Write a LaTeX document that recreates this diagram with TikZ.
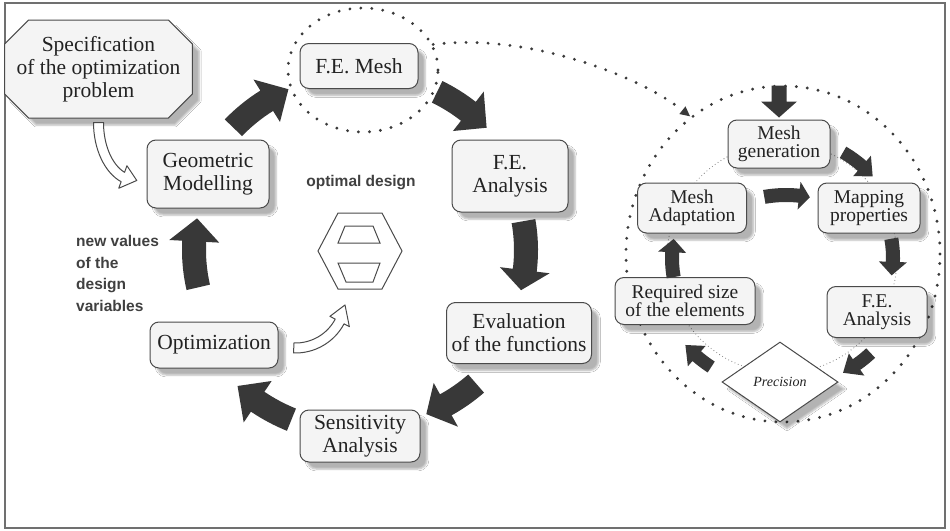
\documentclass[tikz,border=0pt]{standalone}
\usepackage{fontspec}
\setmainfont{Liberation Serif}
\newfontfamily\labelsans{Liberation Sans}
\usetikzlibrary{shapes.geometric,shapes.misc,shadows.blur,arrows.meta}

\definecolor{inkline}{HTML}{4A4A4A}
\definecolor{boxfill}{HTML}{F4F4F4}
\definecolor{textc}{HTML}{222222}
\definecolor{darkarrow}{HTML}{383838}
\definecolor{dotc}{HTML}{3A3A3A}
\definecolor{framec}{HTML}{707070}

% Curved block arrow along an elliptic arc around the current origin:
% [style]{x radius}{y radius}{tail angle}{head-base angle}{tip angle}{body width}{head width}
\newcommand\blockarc[8][]{%
  \pgfmathsetmacro\baXo{#2+#7/2}\pgfmathsetmacro\baYo{#3+#7/2}%
  \pgfmathsetmacro\baXi{#2-#7/2}\pgfmathsetmacro\baYi{#3-#7/2}%
  \pgfmathsetmacro\baHXo{#2+#8/2}\pgfmathsetmacro\baHYo{#3+#8/2}%
  \pgfmathsetmacro\baHXi{#2-#8/2}\pgfmathsetmacro\baHYi{#3-#8/2}%
  \filldraw[#1] (#4:{\baXo} and {\baYo})
    arc[start angle=#4, end angle=#5, x radius=\baXo, y radius=\baYo]
    -- (#5:{\baHXo} and {\baHYo}) -- (#6:{#2} and {#3})
    -- (#5:{\baHXi} and {\baHYi}) -- (#5:{\baXi} and {\baYi})
    arc[start angle=#5, end angle=#4, x radius=\baXi, y radius=\baYi]
    -- cycle;}

\begin{document}
\begin{tikzpicture}[x=1pt,y=-1pt,
  box/.style={draw=inkline, line width=1pt, fill=boxfill, rounded corners=9pt,
    align=center, inner sep=0pt, text=textc,
    font=\fontsize{21.5}{23}\selectfont,
    blur shadow={shadow xshift=7pt, shadow yshift=-7pt, shadow opacity=30, shadow blur steps=5}},
  small/.style={font=\fontsize{19.5}{18.5}\selectfont},
  wh/.style 2 args={minimum width=#1pt, minimum height=#2pt},
  bigdots/.style={draw=dotc, line width=3.2pt, line cap=round, dash pattern=on 0pt off 11pt},
  finedots/.style={draw=gray, line width=1.1pt, line cap=round, dash pattern=on 0pt off 3.5pt},
  cyclearrow/.style={fill=darkarrow, draw=none},
  openarrow/.style={fill=white, draw=inkline, line width=1pt, line join=round},
  note/.style={font=\labelsans\bfseries\fontsize{15.5}{21.5}\selectfont, text=black!75, inner sep=0pt}
]
\useasboundingbox (0,0) rectangle (950,530);
\fill[white] (0,0) rectangle (950,530);
\draw[framec, line width=1.6pt] (5,3) rectangle (945,528);

% dotted rings
\node[ellipse, bigdots, minimum width=150pt, minimum height=124pt] (meshring) at (363,70) {};
\node[ellipse, bigdots, minimum width=314pt, minimum height=336pt] (zoomring) at (783,254) {};
\node[circle, finedots, minimum size=230pt] (innerring) at (782,258) {};
\coordinate (cyc) at (360,250);

% zoom connector
\draw[bigdots, -{Triangle[length=10pt,width=9pt]}] (meshring.20)
  .. controls +(95,-12) and +(-50,-40) .. (zoomring.124);

% main loop
\node[box, sharp corners, chamfered rectangle, chamfered rectangle xsep=12pt,
  chamfered rectangle ysep=12pt, wh={167}{98}] (spec) at (98.5,69)
  {Specification\\of the optimization\\problem};
\node[box, wh={122}{68}] (geo) at (208,174) {Geometric\\Modelling};
\node[box, wh={118}{45}] (mesh) at (359,66) {F.E. Mesh};
\node[box, wh={116}{72}] (fea) at (510,176) {F.E.\\Analysis};
\node[box, wh={145}{61}] (evalf) at (519,333) {Evaluation\\of the functions};
\node[box, wh={120}{52}] (sens) at (360,436) {Sensitivity\\Analysis};
\node[box, wh={128}{46}] (optim) at (214,345) {Optimization};

\node[note] (optlabel) at (361,183) {optimal design};
\node[note, align=left, anchor=north west] (newvals) at (76,235.5)
  {new values\\of the\\design\\variables};

% optimal design glyph
\draw[inkline, line width=1pt] (338,213) -- (382,213) -- (402,251) -- (382,289)
  -- (338,289) -- (318,251) -- cycle;
\draw[inkline, line width=1pt] (345,226) -- (373,226) -- (380,243) -- (338,243) -- cycle;
\draw[inkline, line width=1pt] (338,263) -- (380,263) -- (373,282) -- (346,282) -- cycle;

% loop arrows
\begin{scope}[shift={(cyc)}]
  \blockarc[cyclearrow]{176}{176}{224}{238}{246}{24}{50}
  \blockarc[cyclearrow]{176}{176}{296}{308}{316}{24}{50}
  \blockarc[cyclearrow]{166}{166}{350}{367}{374}{24}{50}
  \blockarc[cyclearrow]{177}{177}{49}{61}{68}{24}{50}
  \blockarc[cyclearrow]{183}{183}{112}{124}{132}{24}{50}
  \blockarc[cyclearrow]{166}{166}{167}{183}{191}{24}{50}
\end{scope}

% open arrows
\begin{scope}[shift={(spec.south)}, shift={(37,4)}]
  \blockarc[openarrow]{37}{58}{180}{110}{88}{10}{24}
\end{scope}
\begin{scope}[shift={(optim.east)}, shift={(17,-47)}]
  \blockarc[openarrow]{50}{50}{92}{28}{8}{10}{22}
\end{scope}

% mesh refinement loop
\node[box, small, wh={102}{48}] (mgen) at (779,144) {Mesh\\generation};
\node[box, small, wh={109}{50}] (madapt) at (692,208) {Mesh\\Adaptation};
\node[box, small, wh={102}{50}] (mapp) at (869,208) {Mapping\\properties};
\node[box, small, wh={140}{47}] (reqs) at (685,301) {Required size\\of the elements};
\node[box, small, wh={100}{51}] (rfea) at (877,312) {F.E.\\Analysis};
\node[box, diamond, sharp corners, fill=white, wh={116}{80},
  font=\itshape\fontsize{14}{16}\selectfont] (prec) at (780,382) {Precision};

\fill[darkarrow] (mgen.north) ++(0,-2) -- ++(-18,-16) -- ++(10.5,0) -- ++(0,-16)
  -- ++(15,0) -- ++(0,16) -- ++(10.5,0) -- cycle;
\begin{scope}[shift={(innerring.center)}]
  \blockarc[cyclearrow]{122}{122}{300}{311}{318}{13}{27}
  \blockarc[cyclearrow]{111}{111}{350}{362}{369}{14}{28}
  \blockarc[cyclearrow]{130}{130}{47}{55}{62}{13}{27}
  \blockarc[cyclearrow]{130}{130}{123}{131}{138}{13}{27}
  \blockarc[cyclearrow]{110}{110}{170}{183}{190}{14}{28}
  \begin{scope}[shift={(4,62)}]
    \blockarc[cyclearrow]{125}{125}{260}{276}{281}{14}{28}
  \end{scope}
\end{scope}
\end{tikzpicture}
\end{document}
